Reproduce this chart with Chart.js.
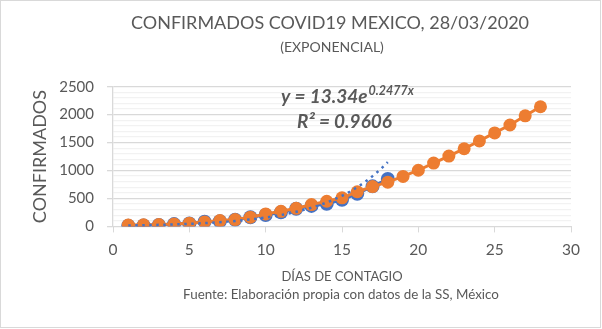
<!DOCTYPE html>
<html>
<head>
<meta charset="utf-8">
<script src="https://cdn.jsdelivr.net/npm/chart.js@4.4.1/dist/chart.umd.min.js"></script>
<style>
  html, body { margin: 0; padding: 0; background: #fff; }
  #wrap { width: 602px; height: 329px; }
</style>
</head>
<body>
<div id="wrap"><canvas id="myChart" width="602" height="329"></canvas></div>
<script>
// casos confirmados (SS) por día de contagio
const dias = [1, 2, 3, 4, 5, 6, 7, 8, 9, 10, 11, 12, 13, 14, 15, 16, 17, 18, 19, 20, 21, 22, 23, 24, 25, 26, 27, 28];
const confirmados = [12, 16, 26, 41, 53, 82, 93, 118, 164, 203, 251, 316, 367, 405, 475, 585, 717, 848];
const proyeccion = [25, 28, 32, 45, 58, 80, 105, 122, 165, 223, 270, 324, 390, 450, 512, 620, 712, 792,
    894, 1005, 1133, 1259, 1390, 1529, 1673, 1815, 1979, 2141];
const ticksX = [0, 5, 10, 15, 20, 25, 30];
const ticksY = [0, 500, 1000, 1500, 2000, 2500];

// línea de tendencia exponencial y = a·e^(b·x)
const tendA = 13.34;
const tendB = 0.2477;
const tendR2 = 0.9606;

const FONT = "Lato, 'Open Sans', sans-serif";
const GRIS = '#595959';

const puntosReales = confirmados.map((v, i) => ({ x: dias[i], y: v }));
const puntosProy = proyeccion.map((v, i) => ({ x: dias[i], y: v }));
const puntosTend = [];
for (let x = 1; x <= confirmados.length + 0.001; x += 0.25) {
    puntosTend.push({ x: x, y: tendA * Math.exp(tendB * x) });
}

// titulos, ecuación, fuente y marco
const textos = {
    id: 'textos',
    afterDraw(chart) {
        const c = chart.ctx;
        c.save();
        c.fillStyle = GRIS;
        c.textAlign = 'center';
        c.textBaseline = 'middle';
        c.font = "18px " + FONT;
        c.fillText('CONFIRMADOS COVID19 MEXICO, 28/03/2020', 330, 23);
        c.font = "14px " + FONT;
        c.fillText('(EXPONENCIAL)', 332, 47);
        c.font = "13.4px " + FONT;
        c.fillText('Fuente: Elaboración propia con datos de la SS, México', 341, 295);

        // ecuación
        c.font = "italic bold 19px " + FONT;
        c.textAlign = 'left';
        const base = 'y = ' + tendA.toFixed(2) + 'e';
        c.fillText(base, 281, 97);
        const w = c.measureText(base).width;
        c.font = "italic bold 12.5px " + FONT;
        c.fillText(tendB.toFixed(4) + 'x', 281 + w + 1, 91);
        c.font = "italic bold 19px " + FONT;
        c.fillText('R² = ' + tendR2.toFixed(4), 297, 122);

        c.strokeStyle = '#d9d9d9';
        c.lineWidth = 1;
        c.strokeRect(0.5, 0.5, 600, 327);
        c.restore();
    }
};

const ctx = document.getElementById('myChart');
const myChart = new Chart(ctx, {
    type: 'scatter',
    data: {
        datasets: [{
            label: 'Expon.',
            data: puntosTend,
            showLine: true,
            borderColor: '#4472C4',
            borderWidth: 2.5,
            borderDash: [2.5, 4.5],
            pointRadius: 0,
            fill: false
        }, {
            label: 'Proyección',
            data: puntosProy,
            showLine: true,
            borderColor: '#ED7D31',
            backgroundColor: '#ED7D31',
            borderWidth: 3,
            pointRadius: 6.5,
            pointBorderWidth: 0,
            pointBackgroundColor: '#ED7D31'
        }, {
            label: 'Confirmados',
            data: puntosReales,
            showLine: true,
            borderColor: '#4472C4',
            backgroundColor: '#4472C4',
            borderWidth: 3,
            pointRadius: 7,
            pointBorderWidth: 0,
            pointBackgroundColor: '#4472C4'
        }]
    },
    options: {
        responsive: false,
        animation: false,
        layout: { padding: { left: 0, right: 31, top: 86.7, bottom: 40 } },
        plugins: {
            legend: { display: false },
            tooltip: { enabled: false }
        },
        scales: {
            x: {
                type: 'linear',
                min: 0,
                max: 30,
                afterBuildTicks: s => { s.ticks = ticksX.map(v => ({ value: v })); },
                afterFit: s => { s.height = 62.6; },
                ticks: { color: GRIS, font: { family: FONT, size: 15.5 }, padding: 8 },
                grid: { drawOnChartArea: false, drawTicks: true, tickLength: 6, color: '#d9d9d9', lineWidth: 1 },
                border: { color: '#d9d9d9', width: 1 },
                title: {
                    display: true,
                    text: 'DÍAS DE CONTAGIO',
                    color: GRIS,
                    font: { family: FONT, size: 13 },
                    padding: { top: 0, bottom: 4 }
                }
            },
            y: {
                type: 'linear',
                min: 0,
                max: 2500,
                afterFit: s => { s.width = 113; },
                ticks: {
                    stepSize: 100,
                    autoSkip: false,
                    color: GRIS,
                    font: { family: FONT, size: 15 },
                    padding: 13,
                    callback: v => ticksY.includes(v) ? v : ''
                },
                grid: {
                    color: c => c.tick && ticksY.includes(c.tick.value) ? '#d9d9d9' : '#f2f2f2',
                    tickColor: c => c.tick && ticksY.includes(c.tick.value) ? '#d9d9d9' : 'rgba(0,0,0,0)',
                    lineWidth: 1.3,
                    tickLength: 6
                },
                border: { color: '#d9d9d9', width: 1.3 },
                title: {
                    display: true,
                    text: 'CONFIRMADOS',
                    color: GRIS,
                    font: { family: FONT, size: 18 },
                    padding: { top: 29, bottom: 0 }
                }
            }
        }
    },
    plugins: [textos]
});
</script>
</body>
</html>
